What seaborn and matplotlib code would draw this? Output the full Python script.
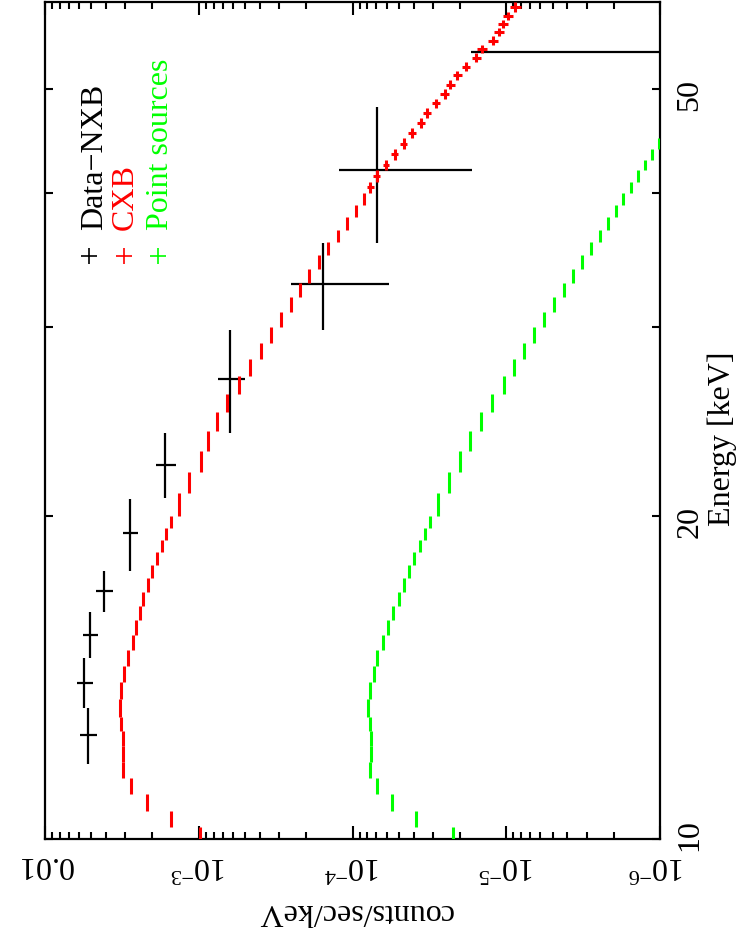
import numpy as np
import pandas as pd
import matplotlib
matplotlib.use("Agg")
import matplotlib.pyplot as plt
import matplotlib.transforms as mtransforms
from matplotlib.ticker import FixedLocator, FixedFormatter, LogLocator, NullFormatter, NullLocator
import seaborn as sns

# energy bins shared by the two model curves [keV]
bin_edges = [9.87, 10.25, 10.63, 11.01, 11.39, 11.8, 12.2, 12.6, 13.0, 13.5, 14.0,
             14.5, 15.0, 15.5, 16.0, 16.5, 17.0, 17.5, 18.0, 18.5, 19.0, 19.5, 20.0,
             21, 22, 23, 24, 25, 26, 27, 28, 29, 30, 31, 32, 33, 34, 35, 36, 37, 38,
             39, 40, 41, 42, 43, 44, 45, 46, 47, 48, 49, 50, 51, 52, 53, 54, 55, 56,
             57, 58, 59, 60.3]

# CXB model (counts/sec/keV)
cxb_rate = [9.81e-4, 1.515e-3, 2.161e-3, 2.759e-3, 3.09e-3, 3.11e-3, 3.13e-3, 3.204e-3,
            3.253e-3, 3.204e-3, 3.063e-3, 2.885e-3, 2.677e-3, 2.578e-3, 2.411e-3,
            2.305e-3, 2.138e-3, 2.014e-3, 1.875e-3, 1.734e-3, 1.621e-3, 1.504e-3,
            1.354e-3, 1.149e-3, 9.74e-4, 8.71e-4, 7.57e-4, 6.51e-4, 5.44e-4, 4.61e-4,
            3.94e-4, 3.37e-4, 2.90e-4, 2.52e-4, 2.20e-4, 1.92e-4, 1.65e-4, 1.44e-4,
            1.25e-4, 1.09e-4, 9.46e-5, 8.45e-5, 7.66e-5, 6.96e-5, 6.07e-5, 5.31e-5,
            4.65e-5, 4.10e-5, 3.61e-5, 3.28e-5, 2.86e-5, 2.52e-5, 2.31e-5, 2.08e-5,
            1.83e-5, 1.57e-5, 1.44e-5, 1.22e-5, 1.12e-5, 1.05e-5, 9.74e-6, 8.77e-6]
cxb_err = [0.0] * 42 + [3.8e-6, 3.5e-6, 3.1e-6, 2.8e-6, 2.5e-6, 2.3e-6, 2.1e-6, 1.9e-6,
                        1.7e-6, 1.6e-6, 1.5e-6, 1.4e-6, 1.2e-6, 1.1e-6, 1.0e-6, 0.9e-6,
                        0.85e-6, 0.8e-6, 0.75e-6, 0.7e-6]

# point source model, only the bins that fall inside the plot
ps_rate = [2.21e-5, 3.88e-5, 5.51e-5, 6.96e-5, 7.69e-5, 7.58e-5, 7.58e-5, 7.69e-5,
           7.87e-5, 7.69e-5, 7.30e-5, 6.88e-5, 6.33e-5, 5.88e-5, 5.43e-5, 5.01e-5,
           4.62e-5, 4.27e-5, 3.96e-5, 3.66e-5, 3.38e-5, 3.14e-5, 2.77e-5, 2.35e-5,
           2.00e-5, 1.72e-5, 1.45e-5, 1.23e-5, 1.04e-5, 8.94e-6, 7.70e-6, 6.64e-6,
           5.68e-6, 4.89e-6, 4.24e-6, 3.67e-6, 3.21e-6, 2.81e-6, 2.47e-6, 2.18e-6,
           1.93e-6, 1.73e-6, 1.55e-6, 1.40e-6, 1.26e-6, 1.13e-6, 1.02e-6]

# Data-NXB spectrum
data_energy = [12.49, 13.99, 15.51, 17.03, 19.27, 22.34, 26.87, 32.90, 42.02, 54.2]
data_energy_hw = [0.75, 0.75, 0.77, 0.745, 1.50, 1.565, 2.97, 3.055, 6.07, 6.1]
data_rate = [5.27e-3, 5.55e-3, 5.10e-3, 4.11e-3, 2.80e-3, 1.66e-3, 6.26e-4, 1.55e-4,
             6.96e-5, 4.0e-7]
data_err = [6.6e-4, 6.6e-4, 6.0e-4, 5.2e-4, 3.1e-4, 2.5e-4, 1.25e-4, 9.7e-5, 5.3e-5,
            1.655e-5]

rate_ticks = [1e-2, 1e-3, 1e-4, 1e-5, 1e-6]
rate_ticklabels = ['0.01', r'$10^{-3}$', r'$10^{-4}$', r'$10^{-5}$', r'$10^{-6}$']
energy_ticks = [10, 20, 30, 40, 50]
energy_ticklabels = ['10', '20', '', '', '50']

legend_labels = ['Data\u2212NXB', 'CXB', 'Point sources']
legend_colors = ['#000000', '#ff0000', '#00ff00']

sns.set_theme(style="white")
plt.rcParams['font.family'] = ['Liberation Serif', 'DejaVu Serif']
plt.rcParams['mathtext.fontset'] = 'custom'
plt.rcParams['mathtext.rm'] = 'Liberation Serif'
plt.rcParams['mathtext.it'] = 'Liberation Serif:italic'
plt.rcParams['axes.edgecolor'] = 'black'
plt.rcParams['axes.linewidth'] = 1.6
plt.rcParams['text.color'] = 'black'
plt.rcParams['xtick.color'] = 'black'
plt.rcParams['ytick.color'] = 'black'
plt.rcParams['xtick.labelcolor'] = 'black'
plt.rcParams['ytick.labelcolor'] = 'black'

FS = 23

edges = np.array(bin_edges)
centers = 0.5 * (edges[:-1] + edges[1:])
model = pd.DataFrame({'e': centers, 'lo': centers - edges[:-1], 'hi': edges[1:] - centers})
model['cxb'] = cxb_rate
model['cxb_err'] = cxb_err
ps = model.iloc[:len(ps_rate)].copy()
ps['rate'] = ps_rate

data = pd.DataFrame({'e': data_energy, 'ehw': data_energy_hw,
                     'rate': data_rate, 'err': data_err})

W, H = 741, 945
fig = plt.figure(figsize=(W / 100, H / 100), dpi=100)
ax = fig.add_axes([45 / W, 1 - 840 / H, 615 / W, 837 / H])

ax.set_xscale('log', nonpositive='clip')
ax.set_yscale('log')

# Data-NXB crosses
ax.errorbar(data['rate'], data['e'], xerr=data['err'], yerr=data['ehw'],
            fmt='none', ecolor='black', elinewidth=1.6, capsize=0, zorder=2)
# CXB model
ax.errorbar(model['cxb'], model['e'], xerr=model['cxb_err'],
            yerr=[model['lo'], model['hi']], fmt='none', ecolor='#ff0000',
            elinewidth=2.2, capsize=0, zorder=3)
# point sources model
ax.errorbar(ps['rate'], ps['e'], yerr=[ps['lo'], ps['hi']], fmt='none',
            ecolor='#00ff00', elinewidth=2.2, capsize=0, zorder=3)

ax.set_xlim(1e-2, 1e-6)
ax.set_ylim(10, 60.3)

ax.xaxis.set_major_locator(FixedLocator(rate_ticks))
ax.xaxis.set_major_formatter(FixedFormatter(rate_ticklabels))
ax.xaxis.set_minor_locator(LogLocator(base=10, subs=np.arange(2, 10)))
ax.xaxis.set_minor_formatter(NullFormatter())
ax.yaxis.set_major_locator(FixedLocator(energy_ticks))
ax.yaxis.set_major_formatter(FixedFormatter(energy_ticklabels))
ax.yaxis.set_minor_locator(NullLocator())

ax.tick_params(which='both', direction='in', top=True, bottom=True, left=True,
               right=True, color='black', width=1.5)
ax.tick_params(axis='x', which='major', length=9.5, labelsize=FS, labelrotation=180, pad=7)
ax.tick_params(axis='x', which='minor', length=4.8)
ax.tick_params(axis='y', which='major', length=6, labelsize=FS, labelrotation=90,
               labelleft=False, labelright=True, pad=11)

# the corner labels ("10" keV and 10^-6) sit close together: nudge them apart
lbl10 = ax.yaxis.get_major_ticks()[0].label2
lbl10.set_transform(lbl10.get_transform() +
                    mtransforms.ScaledTranslation(0, 10 / 100, fig.dpi_scale_trans))
lbl6 = ax.xaxis.get_major_ticks()[-1].label1
lbl6.set_transform(lbl6.get_transform() +
                   mtransforms.ScaledTranslation(-4 / 100, 0, fig.dpi_scale_trans))

for s in ax.spines.values():
    s.set_linewidth(1.6)

fig.text(355 / W, 1 - 912 / H, 'counts/sec/keV', rotation=180, fontsize=FS,
         ha='center', va='center')
fig.text(722 / W, 1 - 439 / H, 'Energy [keV]', rotation=90, fontsize=FS,
         ha='center', va='center')

# legend: rotated labels with a small cross in front
mark_x = [89, 124, 158]
base_x = [102, 133, 168]
for lab, col, mx, bx in zip(legend_labels, legend_colors, mark_x, base_x):
    fig.text(bx / W, 1 - 230 / H, lab, color=col, rotation=90, rotation_mode='anchor',
             ha='left', va='baseline', fontsize=FS)
    fig.lines.append(plt.Line2D([mx / W], [1 - 257 / H], marker='+', markersize=11,
                                markeredgewidth=1.2, color=col,
                                transform=fig.transFigure))

fig.savefig('out.png', dpi=100)
